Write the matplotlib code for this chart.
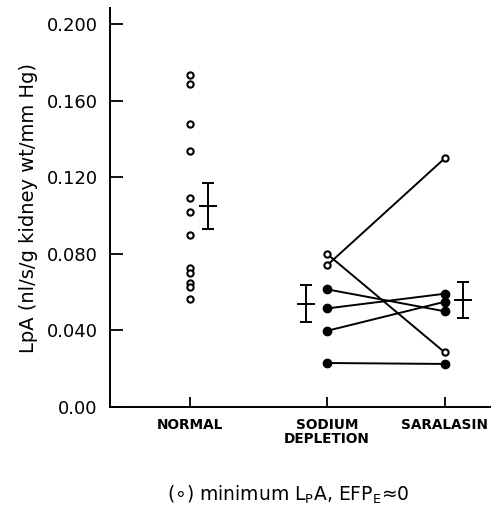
import matplotlib
matplotlib.use("Agg")
import matplotlib.pyplot as plt

# ---- data ----
categories = ["NORMAL", "SODIUM\nDEPLETION", "SARALASIN"]
normal_values = [0.1735, 0.169, 0.148, 0.134, 0.109, 0.102, 0.090,
                 0.0725, 0.070, 0.065, 0.0625, 0.0565]
# paired values: sodium depletion -> saralasin
sodium_open = [0.0800, 0.0740]
saralasin_open = [0.0285, 0.1300]
sodium_filled = [0.0615, 0.0515, 0.0398, 0.0230]
saralasin_filled = [0.0500, 0.0592, 0.0550, 0.0225]
means = [0.105, 0.054, 0.056]
sems = [0.012, 0.0095, 0.0095]
yticks = [0.0, 0.04, 0.08, 0.12, 0.16, 0.20]
ytick_labels = ["0.00", "0.040", "0.080", "0.120", "0.160", "0.200"]

fig = plt.figure(figsize=(4.92, 5.11), dpi=100)
ax = fig.add_axes([0.2236, 0.2035, 0.7724, 0.7805])

xpos = [0.0, 1.0, 1.86]
mean_off = [0.13, -0.15, 0.13]

# Normal points
ax.plot([xpos[0]] * len(normal_values), normal_values, 'o', ms=4.5,
        mfc='white', mec='black', mew=1.5, zorder=3)

# paired lines
for a, b in zip(sodium_open, saralasin_open):
    ax.plot([xpos[1], xpos[2]], [a, b], '-', color='black', lw=1.4, zorder=2)
    ax.plot([xpos[1]], [a], 'o', ms=4.5, mfc='white', mec='black', mew=1.5, zorder=3)
    ax.plot([xpos[2]], [b], 'o', ms=4.5, mfc='white', mec='black', mew=1.5, zorder=3)
for a, b in zip(sodium_filled, saralasin_filled):
    ax.plot([xpos[1], xpos[2]], [a, b], '-', color='black', lw=1.4, zorder=2)
    ax.plot([xpos[1], xpos[2]], [a, b], 'o', ms=6, color='black', zorder=3)

# means +/- sem
for i in range(3):
    xm = xpos[i] + mean_off[i]
    ax.errorbar([xm], [means[i]], yerr=[sems[i]], fmt='_', color='black',
                ms=13, mew=1.4, elinewidth=1.4, capsize=4, capthick=1.4)

ax.set_xlim(-0.584, 2.19)
ax.set_ylim(0, 0.2084)
ax.set_xticks(xpos)
ax.set_xticklabels(categories, fontsize=9.8, fontweight='bold', linespacing=0.95)
ax.set_yticks(yticks)
ax.set_yticklabels(ytick_labels, fontsize=13)
ax.tick_params(axis='y', direction='in', length=9, width=1.3, pad=9)
ax.tick_params(axis='x', direction='in', length=7, width=1.3, pad=8)
for s in ['top', 'right']:
    ax.spines[s].set_visible(False)
for s in ['left', 'bottom']:
    ax.spines[s].set_linewidth(1.4)

ax.set_ylabel("LpA (nl/s/g kidney wt/mm Hg)", fontsize=14, labelpad=6)

fig.text(0.585, 0.032, "(∘) minimum L$_{\\mathrm{P}}$A, EFP$_{\\mathrm{E}}$≈0",
         ha='center', va='center', fontsize=13.5)

fig.savefig("out.png", dpi=100)
